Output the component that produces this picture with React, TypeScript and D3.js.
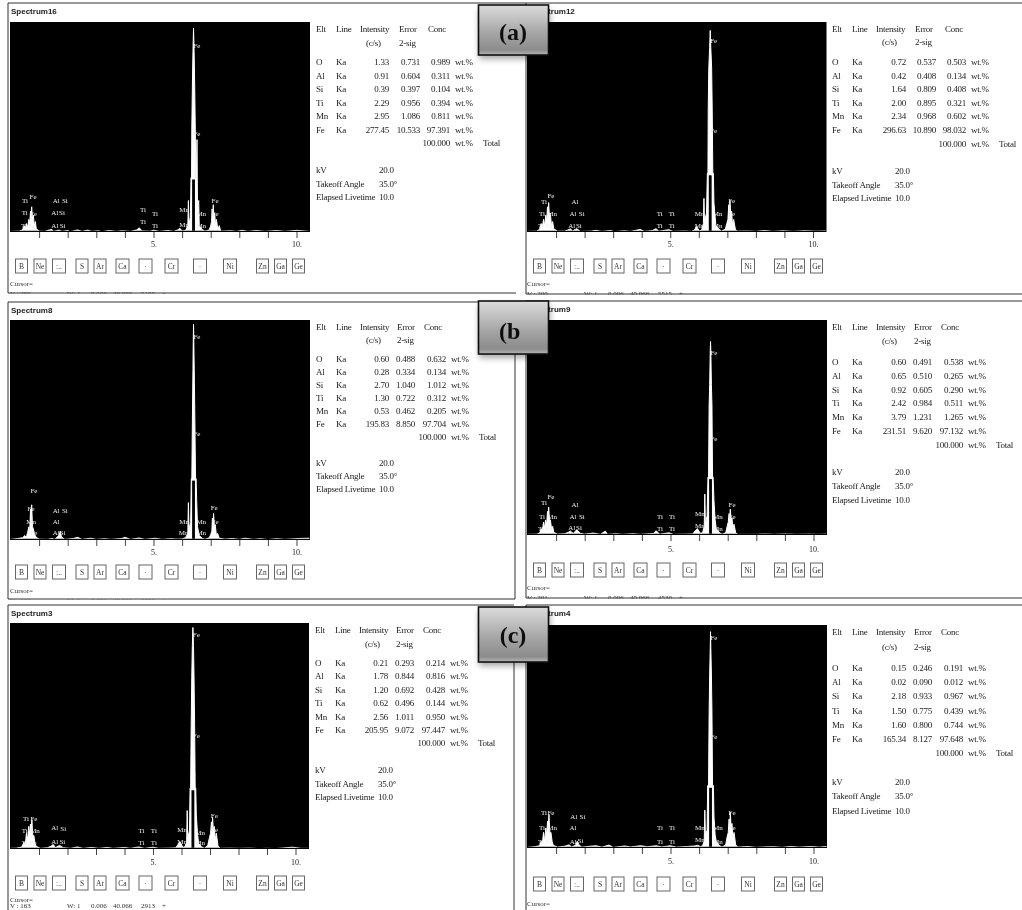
import * as d3 from 'd3';
import React, { useEffect, useRef } from 'react';

const elements = ['O', 'Al', 'Si', 'Ti', 'Mn', 'Fe'];
const buttons = ['B', 'Ne', ':..', 'S', 'Ar', 'Ca', '·', 'Cr', '·', 'Ni', 'Zn', 'Ga', 'Ge'];
const buttonEdges = [5, 23.5, 42, 65.5, 83.5, 105.5, 128.5, 154.5, 183, 213, 246, 264, 282];
const buttonWidths = [12, 12, 13, 12, 12, 13, 13, 13, 13, 13, 12, 12, 12];
const keVTicks = [1, 2, 3, 4, 5, 6, 7, 8, 9, 10];

const names = ['Spectrum16', 'Spectrum12', 'Spectrum8', 'Spectrum9', 'Spectrum3', 'Spectrum4'];

const intensity = [
  ['1.33', '0.91', '0.39', '2.29', '2.95', '277.45'],
  ['0.72', '0.42', '1.64', '2.00', '2.34', '296.63'],
  ['0.60', '0.28', '2.70', '1.30', '0.53', '195.83'],
  ['0.60', '0.65', '0.92', '2.42', '3.79', '231.51'],
  ['0.21', '1.78', '1.20', '0.62', '2.56', '205.95'],
  ['0.15', '0.02', '2.18', '1.50', '1.60', '165.34'],
];
const errors = [
  ['0.731', '0.604', '0.397', '0.956', '1.086', '10.533'],
  ['0.537', '0.408', '0.809', '0.895', '0.968', '10.890'],
  ['0.488', '0.334', '1.040', '0.722', '0.462', '8.850'],
  ['0.491', '0.510', '0.605', '0.984', '1.231', '9.620'],
  ['0.293', '0.844', '0.692', '0.496', '1.011', '9.072'],
  ['0.246', '0.090', '0.933', '0.775', '0.800', '8.127'],
];
const concs = [
  ['0.989', '0.311', '0.104', '0.394', '0.811', '97.391'],
  ['0.503', '0.134', '0.408', '0.321', '0.602', '98.032'],
  ['0.632', '0.134', '1.012', '0.312', '0.205', '97.704'],
  ['0.538', '0.265', '0.290', '0.511', '1.265', '97.132'],
  ['0.214', '0.816', '0.428', '0.144', '0.950', '97.447'],
  ['0.191', '0.012', '0.967', '0.439', '0.744', '97.648'],
];
const cursorCounts = ['5100', '5515', '2092', '4530', '2913', ''];
const cursorV = ['200', '200', '166', '201', '163', ''];

// [keV, % of full scale]
const spectrum16: [number, number][] = [
  [0, 0.3], [0.3, 0.4], [0.42, 1], [0.48, 3], [0.52, 1.5], [0.56, 4], [0.6, 2], [0.64, 6], [0.67, 4], [0.7, 10], [0.72, 5], [0.74, 12], [0.77, 6], [0.8, 8], [0.83, 3], [0.87, 5], [0.9, 1.5], [1.0, 0.4],
  [1.2, 0.3], [1.3, 0.8], [1.45, 1.2], [1.5, 0.3], [1.7, 0.9], [1.8, 0.3], [2.0, 0.7], [2.1, 0.2], [2.35, 1], [2.5, 0.3], [2.7, 0.9], [2.85, 0.3], [3.05, 0.6], [3.2, 0.2], [3.45, 0.7], [3.7, 0.3], [3.9, 0.6], [4.2, 0.3], [4.42, 1], [4.5, 2], [4.6, 0.5], [4.9, 0.4], [5.0, 0.9], [5.2, 0.3], [5.5, 0.7], [5.7, 0.3], [5.85, 1], [5.92, 1.8], [6.0, 0.5], [6.12, 0.7],
  [6.2, 3], [6.22, 15], [6.24, 4], [6.29, 7], [6.31, 26], [6.33, 26], [6.34, 50], [6.36, 70], [6.38, 86], [6.4, 97], [6.42, 86], [6.44, 70], [6.46, 50], [6.48, 26], [6.5, 26], [6.52, 44], [6.54, 10], [6.58, 15], [6.6, 3], [6.7, 1.2], [6.8, 0.4],
  [6.95, 1], [7.0, 3], [7.03, 5], [7.05, 11], [7.07, 4], [7.09, 13], [7.11, 7], [7.14, 9], [7.17, 3], [7.2, 6], [7.25, 1.2], [7.3, 3], [7.35, 0.4],
  [7.7, 0.6], [7.9, 0.3], [8.1, 0.8], [8.3, 0.3], [8.6, 0.7], [8.9, 0.3], [9.3, 0.7], [9.6, 0.3], [10.0, 0.8], [10.45, 0.3],
];
const spectrum12: [number, number][] = [
  [0, 0.3], [0.32, 0.4], [0.42, 1.2], [0.48, 4], [0.52, 2], [0.56, 6], [0.6, 3], [0.64, 8], [0.67, 5], [0.7, 12], [0.72, 6], [0.74, 14], [0.77, 7], [0.8, 9], [0.84, 3], [0.88, 5], [0.92, 1.5], [1.05, 0.4],
  [1.3, 0.4], [1.42, 1], [1.5, 1.5], [1.58, 0.5], [1.72, 1.6], [1.85, 0.3], [2.2, 0.4], [2.4, 0.8], [2.6, 0.3], [2.9, 0.7], [3.05, 0.2], [3.4, 0.6], [3.6, 0.3], [3.95, 1.2], [4.1, 0.3], [4.38, 0.7], [4.5, 1.6], [4.6, 0.4], [4.95, 1.1], [5.1, 0.3], [5.5, 0.5], [5.75, 0.3], [5.85, 1], [5.92, 2.6], [6.02, 0.5], [6.1, 0.9],
  [6.16, 4], [6.18, 16], [6.2, 5], [6.27, 9], [6.3, 28], [6.32, 28], [6.33, 58], [6.35, 78], [6.38, 88], [6.4, 96], [6.42, 88], [6.45, 78], [6.47, 58], [6.49, 28], [6.51, 28], [6.53, 14], [6.56, 9], [6.6, 3], [6.7, 1.4], [6.8, 0.4],
  [6.93, 1.4], [6.98, 4], [7.02, 6], [7.05, 13], [7.07, 5], [7.09, 15], [7.12, 8], [7.15, 10], [7.18, 3], [7.22, 6], [7.28, 1.4], [7.33, 0.4],
  [7.7, 0.5], [8.0, 0.3], [8.3, 0.7], [8.6, 0.3], [8.95, 0.6], [9.3, 0.3], [9.7, 0.6], [10.1, 0.4], [10.45, 0.5],
];
const spectrum8: [number, number][] = [
  [0, 0.3], [0.2, 0.6], [0.42, 1], [0.5, 2], [0.55, 1], [0.6, 3.5], [0.64, 6], [0.67, 3], [0.7, 14], [0.72, 7], [0.74, 16], [0.77, 6], [0.8, 5], [0.84, 2.5], [0.9, 1.2], [1.0, 0.4],
  [1.3, 0.3], [1.45, 0.7], [1.55, 0.3], [1.7, 2.2], [1.74, 4], [1.78, 1.4], [1.9, 0.3], [2.2, 0.7], [2.35, 1.2], [2.5, 0.3], [2.8, 0.8], [3.0, 0.3], [3.3, 0.6], [3.5, 0.3], [3.9, 0.7], [4.0, 1.2], [4.2, 0.3], [4.5, 0.9], [4.7, 0.3], [5.05, 0.8], [5.3, 0.3], [5.6, 0.6], [5.85, 0.4], [6.0, 0.5], [6.12, 1],
  [6.2, 3], [6.22, 17], [6.24, 5], [6.3, 8], [6.32, 28], [6.34, 28], [6.36, 55], [6.38, 78], [6.39, 90], [6.4, 98], [6.41, 90], [6.43, 72], [6.45, 50], [6.47, 28], [6.49, 28], [6.51, 18], [6.54, 6], [6.6, 2], [6.7, 0.8], [6.8, 0.3],
  [6.95, 1], [7.0, 2.5], [7.04, 4], [7.06, 10], [7.08, 5], [7.1, 12], [7.13, 6], [7.16, 7], [7.2, 2], [7.24, 3], [7.3, 0.8], [7.5, 0.4],
  [7.75, 0.7], [8.0, 0.3], [8.2, 0.8], [8.5, 0.3], [8.75, 0.6], [9.0, 0.2], [9.3, 0.6], [9.6, 0.3], [10.1, 0.7], [10.45, 0.8],
];
const spectrum9: [number, number][] = [
  [0, 0.3], [0.33, 0.4], [0.43, 1], [0.48, 3], [0.52, 1.5], [0.56, 6], [0.6, 3], [0.63, 7], [0.67, 5], [0.7, 11], [0.72, 6], [0.74, 13], [0.77, 7], [0.8, 7], [0.84, 3], [0.88, 4], [0.92, 1.2], [1.05, 0.4],
  [1.3, 0.6], [1.42, 1.2], [1.5, 1.8], [1.6, 0.7], [1.72, 2.4], [1.85, 0.8], [2.0, 0.4], [2.3, 0.9], [2.55, 0.3], [2.72, 1.8], [2.8, 0.3], [3.1, 0.6], [3.3, 0.3], [3.7, 0.6], [3.95, 0.3], [4.4, 0.7], [4.5, 2], [4.62, 0.4], [4.95, 1], [5.1, 0.3], [5.5, 0.4], [5.78, 0.5], [5.88, 2.2], [5.94, 3], [6.04, 0.8], [6.12, 1],
  [6.18, 4], [6.2, 19], [6.22, 5], [6.28, 9], [6.31, 27], [6.33, 27], [6.35, 60], [6.37, 70], [6.39, 86], [6.4, 90], [6.41, 86], [6.43, 70], [6.45, 60], [6.47, 27], [6.49, 27], [6.52, 16], [6.56, 7], [6.6, 3], [6.7, 1.2], [6.8, 0.4],
  [6.93, 1], [6.98, 4], [7.02, 6], [7.05, 10], [7.07, 5], [7.09, 12], [7.12, 7], [7.15, 8], [7.18, 3], [7.22, 5], [7.28, 1], [7.35, 0.3],
  [8.0, 0.3], [8.3, 0.5], [8.6, 0.3], [9.0, 0.5], [9.4, 0.3], [9.8, 0.4], [10.2, 0.3], [10.45, 0.4],
];
const spectrum3: [number, number][] = [
  [0, 0.3], [0.2, 0.4], [0.4, 0.9], [0.47, 3], [0.52, 2], [0.56, 7], [0.6, 4], [0.64, 10], [0.67, 6], [0.7, 11], [0.72, 7], [0.75, 13], [0.78, 6], [0.82, 6], [0.86, 2.5], [0.9, 1.2], [1.05, 0.3],
  [1.3, 0.6], [1.42, 1.2], [1.5, 2], [1.58, 0.6], [1.72, 1.6], [1.85, 0.6], [2.1, 0.3], [2.35, 0.9], [2.55, 0.3], [2.85, 0.7], [3.1, 0.3], [3.4, 0.7], [3.6, 0.3], [4.0, 0.7], [4.2, 0.3], [4.5, 0.9], [4.7, 0.3], [5.0, 0.8], [5.2, 0.3], [5.55, 0.4], [5.8, 0.5], [5.88, 2], [5.95, 3.2], [6.05, 0.7], [6.12, 1],
  [6.18, 3], [6.2, 17], [6.22, 5], [6.28, 8], [6.3, 27], [6.32, 27], [6.34, 55], [6.36, 76], [6.38, 90], [6.4, 98], [6.42, 90], [6.44, 76], [6.46, 55], [6.48, 27], [6.5, 27], [6.52, 15], [6.56, 7], [6.6, 2.5], [6.7, 1], [6.8, 0.3],
  [6.92, 1.5], [6.98, 5], [7.02, 7], [7.05, 12], [7.07, 6], [7.09, 14], [7.12, 8], [7.15, 10], [7.18, 4], [7.22, 7], [7.28, 1.5], [7.35, 0.3],
  [7.7, 0.4], [8.0, 0.3], [8.4, 0.4], [8.7, 0.2], [9.0, 0.3], [9.3, 0.2], [9.9, 0.8], [10.2, 0.3], [10.45, 0.3],
];
const spectrum4: [number, number][] = [
  [0, 0.3], [0.25, 0.6], [0.42, 1], [0.48, 3], [0.52, 2], [0.56, 7], [0.6, 3], [0.64, 9], [0.67, 5], [0.7, 12], [0.72, 7], [0.75, 15], [0.78, 7], [0.82, 7], [0.86, 3], [0.9, 1.2], [1.05, 0.4],
  [1.3, 0.8], [1.45, 1.4], [1.55, 0.5], [1.68, 1.2], [1.74, 3], [1.8, 1.4], [1.9, 0.4], [2.2, 0.8], [2.4, 1], [2.6, 0.4], [2.85, 1.3], [3.0, 0.3], [3.4, 0.9], [3.6, 0.5], [3.95, 1], [4.2, 0.6], [4.5, 1], [4.7, 0.5], [5.0, 1], [5.2, 0.4], [5.6, 0.7], [5.85, 0.9], [5.95, 1.2], [6.05, 0.6], [6.12, 1],
  [6.18, 3], [6.2, 17], [6.22, 6], [6.28, 8], [6.3, 28], [6.33, 28], [6.35, 60], [6.37, 78], [6.39, 90], [6.4, 97], [6.41, 90], [6.43, 78], [6.45, 60], [6.47, 28], [6.5, 28], [6.52, 14], [6.56, 6], [6.6, 3], [6.7, 1.2], [6.8, 0.4],
  [6.93, 1.4], [6.98, 5], [7.02, 7], [7.05, 13], [7.07, 6], [7.09, 16], [7.12, 9], [7.15, 11], [7.18, 4], [7.22, 7], [7.28, 1.4], [7.35, 0.4],
  [7.7, 0.7], [8.0, 0.3], [8.3, 0.5], [8.6, 0.6], [8.9, 0.3], [9.2, 0.7], [9.5, 0.4], [9.9, 0.7], [10.2, 0.4], [10.45, 0.7],
];
const spectra = [spectrum16, spectrum12, spectrum8, spectrum9, spectrum3, spectrum4];
// height of the hollow part at the foot of the Fe Ka peak, % of full scale
const hollowTop = [25, 27, 27, 26, 26, 27];

// marker labels: [element, keV, % of full scale]
const markers: [string, number, number][][] = [
  [['Ti', 0.51, 15.2], ['Fe', 0.79, 17.1], ['Al', 1.6, 14.8], ['Si', 1.9, 14.8], ['Ti', 0.5, 9.5], ['Fe', 0.8, 8.8], ['Al', 1.55, 9.5], ['Si', 1.8, 9.5], ['Ti', 0.47, 3.3], ['Fe', 0.75, 3.3], ['Al', 1.55, 3.3], ['Si', 1.82, 3.3], ['Ti', 4.63, 10.5], ['Ti', 5.05, 9], ['Ti', 4.63, 4.8], ['Ti', 5.05, 3.3], ['Mn', 6.07, 10.5], ['Mn', 6.67, 9], ['Mn', 6.07, 3.8], ['Mn', 6.67, 3.3], ['Fe', 7.15, 15.2], ['Fe', 7.15, 8.6], ['Fe', 6.52, 88.6], ['Fe', 6.52, 46.7]],
  [['Ti', 0.58, 14.3], ['Fe', 0.82, 17.6], ['Al', 1.66, 14.3], ['Ti', 0.51, 8.6], ['Mn', 0.86, 8.6], ['Al', 1.59, 8.6], ['Si', 1.9, 8.6], ['Ti', 0.47, 2.9], ['Fe', 0.75, 2.9], ['Al', 1.55, 3.3], ['Si', 1.8, 3.3], ['Ti', 4.63, 9], ['Ti', 5.05, 9], ['Ti', 4.63, 3.3], ['Ti', 5.05, 3.3], ['Mn', 6.03, 9], ['Mn', 6.66, 9], ['Mn', 6.03, 2.9], ['Mn', 6.66, 2.9], ['Fe', 7.15, 15.2], ['Fe', 7.15, 9], ['Fe', 6.52, 91.4], ['Fe', 6.52, 48.1]],
  [['Fe', 0.82, 22.7], ['Fe', 0.72, 14.5], ['Al', 1.6, 13.6], ['Si', 1.9, 13.6], ['Mn', 0.72, 8.2], ['Al', 1.6, 8.2], ['Fe', 0.82, 3.2], ['Al', 1.6, 3.2], ['Si', 1.82, 3.6], ['Mn', 6.07, 8.6], ['Mn', 6.67, 8.6], ['Mn', 6.05, 3.2], ['Mn', 6.67, 3.2], ['Fe', 7.12, 15], ['Fe', 7.15, 8.6], ['Fe', 6.52, 92.3], ['Fe', 6.52, 48.2]],
  [['Ti', 0.58, 14.9], ['Fe', 0.82, 18.1], ['Al', 1.66, 14.4], ['Ti', 0.51, 8.8], ['Mn', 0.86, 8.8], ['Al', 1.59, 8.8], ['Si', 1.9, 8.8], ['Ti', 0.47, 2.8], ['Fe', 0.75, 2.8], ['Al', 1.55, 3.3], ['Si', 1.8, 3.3], ['Ti', 4.63, 8.8], ['Ti', 5.05, 8.8], ['Ti', 4.63, 2.8], ['Ti', 5.05, 2.8], ['Mn', 6.03, 9.8], ['Mn', 6.66, 8.4], ['Mn', 6.03, 4.2], ['Mn', 6.66, 2.8], ['Fe', 7.15, 14.4], ['Fe', 7.15, 8.8], ['Fe', 6.52, 85], ['Fe', 6.52, 44.7]],
  [['Ti', 0.54, 13.3], ['Fe', 0.82, 13.7], ['Ti', 0.5, 8], ['Mn', 0.86, 8], ['Al', 1.55, 9.3], ['Si', 1.85, 9], ['Ti', 0.5, 2.7], ['Fe', 0.79, 2.7], ['Al', 1.55, 3.1], ['Si', 1.82, 3.1], ['Ti', 4.6, 8], ['Ti', 5.03, 8], ['Ti', 4.6, 2.7], ['Ti', 5.03, 2.7], ['Mn', 6.02, 8.8], ['Mn', 6.65, 7.5], ['Mn', 6.02, 3.5], ['Mn', 6.65, 2.7], ['Fe', 7.15, 15], ['Fe', 7.15, 8.8], ['Fe', 6.52, 94.7], ['Fe', 6.52, 50.4]],
  [['Ti', 0.58, 15.7], ['Fe', 0.82, 16.1], ['Al', 1.62, 14.3], ['Si', 1.92, 14.3], ['Ti', 0.51, 9], ['Mn', 0.86, 9], ['Al', 1.59, 9], ['Ti', 0.47, 2.7], ['Fe', 0.75, 2.7], ['Al', 1.6, 3.1], ['Si', 1.85, 3.4], ['Ti', 4.63, 9.4], ['Ti', 5.05, 9], ['Ti', 4.63, 3.1], ['Ti', 5.05, 3.1], ['Mn', 6.03, 9.4], ['Mn', 6.66, 9], ['Mn', 6.03, 4], ['Mn', 6.66, 3.1], ['Fe', 7.15, 15.7], ['Fe', 7.15, 9], ['Fe', 6.52, 94.2], ['Fe', 6.52, 49.8]],
];

// screen layout of the six captures
const layouts = [
  { frame: 8, frameTop: 3, frameBottom: 293, frameRight: 526, bottomRight: 516, left: 10, right: 310, top: 22, base: 232, x0: 10.5, x10: 296.5, tickY: 18, btnY: 27, curY: 51, tb: { l: 316, i: 389, e: 420, c: 450, eh: 399, ch: 428, h: 29, s: 43, r: 62, st: 13.5, k: 170, ks: 13.5 } },
  { frame: 526, frameTop: 3, frameBottom: 294, frameRight: 1022, bottomRight: 1022, left: 527, right: 826.5, top: 22, base: 232, x0: 527.5, x10: 813, tickY: 18, btnY: 27, curY: 51, tb: { l: 832, i: 906, e: 936, c: 966, eh: 915, ch: 945, h: 29, s: 42, r: 62, st: 13.6, k: 171, ks: 13.5 } },
  { frame: 8, frameTop: 302, frameBottom: 599, frameRight: 515, bottomRight: 515, left: 10, right: 310, top: 320, base: 540, x0: 10.5, x10: 296.5, tickY: 18, btnY: 25, curY: 50, tb: { l: 316, i: 389, e: 415, c: 446, eh: 397, ch: 424, h: 327, s: 340, r: 359, st: 13, k: 463, ks: 13 } },
  { frame: 526, frameTop: 301, frameBottom: 598, frameRight: 1022, bottomRight: 1022, left: 527, right: 827, top: 320, base: 535, x0: 527.5, x10: 813.5, tickY: 20, btnY: 28, curY: 52, tb: { l: 832, i: 906, e: 932, c: 963, eh: 914, ch: 941, h: 327, s: 341, r: 362, st: 13.8, k: 472, ks: 14 } },
  { frame: 8, frameTop: 605, frameBottom: 920, frameRight: 514, bottomRight: 514, left: 10, right: 309, top: 623, base: 849, x0: 10.5, x10: 295.5, tickY: 19, btnY: 27, curY: 50, tb: { l: 315, i: 388, e: 414, c: 445, eh: 396, ch: 423, h: 630, s: 644, r: 663, st: 13.4, k: 770, ks: 13.5 } },
  { frame: 526, frameTop: 605, frameBottom: 920, frameRight: 1022, bottomRight: 1022, left: 527, right: 827, top: 625, base: 848, x0: 527.5, x10: 813.5, tickY: 19, btnY: 29, curY: 55, tb: { l: 832, i: 906, e: 932, c: 963, eh: 914, ch: 941, h: 632, s: 647, r: 668, st: 14.2, k: 782, ks: 14.3 } },
];

const tags = [
  { text: '(a)', top: 5, bottom: 55, baseline: 40 },
  { text: '(b', top: 301, bottom: 354, baseline: 339 },
  { text: '(c)', top: 607, bottom: 662, baseline: 643 },
];

const serif = '"Liberation Serif", serif';
const sans = '"Liberation Sans", sans-serif';

export default function App() {
  const ref = useRef<SVGSVGElement>(null);

  useEffect(() => {
    const svg = d3.select(ref.current);
    svg.selectAll('*').remove();

    const defs = svg.append('defs');
    defs.append('filter').attr('id', 'soft').append('feGaussianBlur').attr('stdDeviation', 0.4);
    const sh = defs.append('filter').attr('id', 'shadow').attr('x', '-20%').attr('y', '-20%').attr('width', '140%').attr('height', '150%');
    sh.append('feGaussianBlur').attr('stdDeviation', 3);
    const grad = defs.append('linearGradient').attr('id', 'tagFill').attr('x1', 0).attr('y1', 0).attr('x2', 0).attr('y2', 1);
    grad.append('stop').attr('offset', '0%').attr('stop-color', '#dcdcdc');
    grad.append('stop').attr('offset', '55%').attr('stop-color', '#a6a6a6');
    grad.append('stop').attr('offset', '90%').attr('stop-color', '#8c8c8c');
    grad.append('stop').attr('offset', '100%').attr('stop-color', '#b5b5b5');

    const root = svg.append('g').attr('filter', 'url(#soft)');

    layouts.forEach((p, i) => {
      const g = root.append('g');
      const x = d3.scaleLinear().domain([0, 10]).range([p.x0, p.x10]);
      const y = d3.scaleLinear().domain([0, 100]).range([p.base, p.top]);

      // window frame
      g.append('path')
        .attr('d', `M${p.frame},${p.frameBottom}V${p.frameTop}H${p.frameRight}`)
        .attr('fill', 'none').attr('stroke', '#333').attr('stroke-width', 1);
      if (i === 2 || i === 4) {
        g.append('line').attr('x1', p.frameRight).attr('x2', p.frameRight).attr('y1', p.frameTop + 50).attr('y2', p.frameBottom).attr('stroke', '#333');
      }

      g.append('text').attr('x', p.frame + 3).attr('y', p.frameTop + 11)
        .attr('font-family', sans).attr('font-weight', 'bold').attr('font-size', 8).attr('fill', '#222')
        .text(names[i]);

      g.append('rect').attr('x', p.left).attr('y', p.top).attr('width', p.right - p.left).attr('height', p.base - p.top).attr('fill', '#000');

      // spectrum trace; the lowest counts stay under the clip so the baseline reads as specks
      const clipId = `plot${i}`;
      defs.append('clipPath').attr('id', clipId).append('rect')
        .attr('x', p.left).attr('y', p.top).attr('width', p.right - p.left).attr('height', y(0.55) - p.top);
      const trace = g.append('g').attr('clip-path', `url(#${clipId})`);
      const area = d3.area<[number, number]>().x(d => x(d[0])).y0(y(0)).y1(d => y(d[1]));
      const line = d3.line<[number, number]>().x(d => x(d[0])).y(d => y(d[1]));
      trace.append('path').datum(spectra[i]).attr('d', area).attr('fill', '#fff');
      trace.append('path').datum(spectra[i]).attr('d', line).attr('fill', 'none').attr('stroke', '#fff').attr('stroke-width', 1);
      trace.append('rect').attr('x', x(6.35)).attr('width', x(6.45) - x(6.35)).attr('y', y(hollowTop[i])).attr('height', y(0) - y(hollowTop[i])).attr('fill', '#000');

      g.selectAll('.marker').data(markers[i]).join('text').attr('class', 'marker')
        .attr('x', d => x(d[1])).attr('y', d => y(d[2]) + 2.5)
        .attr('text-anchor', 'middle').attr('font-family', serif).attr('font-size', 7).attr('fill', '#eee')
        .text(d => d[0]);

      // keV axis
      const axis = d3.axisBottom(x).tickValues(keVTicks).tickSize(6).tickPadding(p.tickY - 15)
        .tickFormat(d => (+d === 5 || +d === 10 ? `${d}.` : ''));
      const ax = g.append('g').attr('transform', `translate(0,${p.base})`).call(axis);
      ax.select('.domain').remove();
      ax.selectAll('line').attr('stroke', '#444');
      ax.selectAll('text').attr('font-family', serif).attr('font-size', 8).attr('fill', '#222');

      // element buttons
      const by = p.base + p.btnY;
      buttons.forEach((b, k) => {
        const bx = p.frame + buttonEdges[k] + 2.5;
        g.append('rect').attr('x', bx).attr('y', by).attr('width', buttonWidths[k]).attr('height', 14)
          .attr('fill', '#fff').attr('stroke', '#666').attr('stroke-width', 1);
        g.append('text').attr('x', bx + buttonWidths[k] / 2).attr('y', by + 10).attr('text-anchor', 'middle')
          .attr('font-family', serif).attr('font-size', 7.5).attr('fill', '#333').text(b);
      });

      // cursor line, cut by the frame
      g.append('text').attr('x', p.left).attr('y', p.base + p.curY + 3).attr('font-family', serif).attr('font-size', 7).attr('fill', '#333').text('Cursor=');
      if (cursorV[i]) {
        const cy = Math.min(p.base + p.curY + 13, 908);
        const cursorFields = [`V : ${cursorV[i]}`, 'W: 1', '0.006', '40.066', cursorCounts[i], '+'];
        const cursorOffsets = [0, 57, 81, 103, 131, 152];
        cursorFields.forEach((f, k) => {
          g.append('text').attr('x', p.left + cursorOffsets[k]).attr('y', cy).attr('font-family', serif).attr('font-size', 7).attr('fill', '#333').text(f);
        });
      }
      if (p.frameBottom < 910) {
        g.append('rect').attr('x', p.frame + 1).attr('y', p.frameBottom + 0.5).attr('width', 500).attr('height', 8).attr('fill', '#fff');
        g.append('line').attr('x1', p.frame).attr('x2', p.bottomRight).attr('y1', p.frameBottom).attr('y2', p.frameBottom).attr('stroke', '#333');
      }

      // results table
      const t = p.tb;
      const txt = (tx: number, ty: number, s: string, anchor = 'start') =>
        g.append('text').attr('x', tx).attr('y', ty + 3).attr('text-anchor', anchor)
          .attr('font-family', serif).attr('font-size', 9).attr('letter-spacing', -0.25).attr('fill', '#222').text(s);
      txt(t.l, t.h, 'Elt');
      txt(t.l + 20, t.h, 'Line');
      txt(t.l + 44, t.h, 'Intensity');
      txt(t.eh, t.h, 'Error');
      txt(t.ch, t.h, 'Conc');
      txt(t.l + 50, t.s, '(c/s)');
      txt(t.eh, t.s, '2-sig');
      elements.forEach((el, r) => {
        const ry = t.r + r * t.st;
        txt(t.l, ry, el);
        txt(t.l + 20, ry, 'Ka');
        txt(t.i, ry, intensity[i][r], 'end');
        txt(t.e, ry, errors[i][r], 'end');
        txt(t.c, ry, concs[i][r], 'end');
        txt(t.c + 5, ry, 'wt.%');
      });
      const totalY = t.r + 6 * t.st;
      txt(t.c, totalY, '100.000', 'end');
      txt(t.c + 5, totalY, 'wt.%');
      txt(t.c + 33, totalY, 'Total');
      txt(t.l, t.k, 'kV');
      txt(t.l + 63, t.k, '20.0');
      txt(t.l, t.k + t.ks, 'Takeoff Angle');
      txt(t.l + 63, t.k + t.ks, '35.0°');
      txt(t.l, t.k + 2 * t.ks, 'Elapsed Livetime');
      txt(t.l + 63, t.k + 2 * t.ks, '10.0');
    });

    // (a) (b) (c) tags sit on top of everything
    tags.forEach(tag => {
      const h = tag.bottom - tag.top;
      root.append('rect').attr('x', 479).attr('y', tag.top + 4).attr('width', 71).attr('height', h).attr('fill', '#000').attr('opacity', 0.35).attr('filter', 'url(#shadow)');
      root.append('rect').attr('x', 478.5).attr('y', tag.top).attr('width', 70).attr('height', h)
        .attr('fill', 'url(#tagFill)').attr('stroke', '#111').attr('stroke-width', 1.6);
      root.append('text').attr('x', tag.text === '(b' ? 499 : 513).attr('y', tag.baseline).attr('text-anchor', tag.text === '(b' ? 'start' : 'middle')
        .attr('font-family', serif).attr('font-weight', 'bold').attr('font-size', 24).attr('fill', '#111').text(tag.text);
    });
  }, []);

  return <svg ref={ref} width={1022} height={910} style={{ position: 'absolute', left: 0, top: 0, display: 'block', background: '#fff' }}></svg>;
}
